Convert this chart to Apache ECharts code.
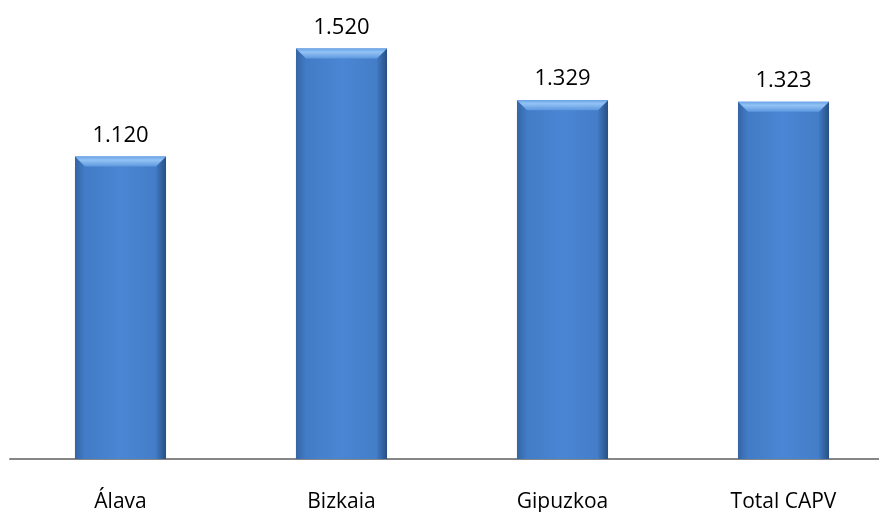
<!DOCTYPE html>
<html><head><meta charset="utf-8">
<script src="https://cdn.jsdelivr.net/npm/echarts@6/dist/echarts.min.js"></script>
<style>html,body{margin:0;padding:0;background:#fff}#c{width:879px;height:512px}</style>
</head><body><div id="c"></div>
<script>
const categories = ['Álava', 'Bizkaia', 'Gipuzkoa', 'Total CAPV'];
const values = [1120, 1520, 1329, 1323];
function fmt(v){ return String(v).replace(/\B(?=(\d{3})+(?!\d))/g, '.'); }
const chart = echarts.init(document.getElementById('c'));
function renderBar(params, api) {
  const i = api.value(0), v = api.value(1);
  const top = api.coord([i, v]);
  const base = api.coord([i, 0]);
  const w = api.size([1, 0])[0] * 0.412;
  const x0 = top[0] - w / 2, x1 = top[0] + w / 2, y0 = top[1], y1 = base[1];
  const b = 10;
  return {
    type: 'group',
    children: [
      { type: 'rect', shape: { x: x0, y: y0, width: w, height: y1 - y0 },
        style: { fill: new echarts.graphic.LinearGradient(0, 0, 1, 0, [
          { offset: 0, color: '#4079c2' }, { offset: 0.5, color: '#4a86d4' }, { offset: 1, color: '#427bc4' }]) } },
      { type: 'polygon', shape: { points: [[x0, y0], [x0 + b, y0 + b], [x0 + b, y1], [x0, y1]] },
        style: { fill: new echarts.graphic.LinearGradient(0, 0, 1, 0, [
          { offset: 0, color: '#3465a5' }, { offset: 1, color: '#427cc6' }]) } },
      { type: 'polygon', shape: { points: [[x1, y0], [x1 - b, y0 + b], [x1 - b, y1], [x1, y1]] },
        style: { fill: new echarts.graphic.LinearGradient(0, 0, 1, 0, [
          { offset: 0, color: '#4079c2' }, { offset: 1, color: '#284f84' }]) } },
      { type: 'polygon', shape: { points: [[x0, y0], [x1, y0], [x1 - b, y0 + b], [x0 + b, y0 + b]] },
        style: { fill: new echarts.graphic.LinearGradient(0, 0, 0, 1, [
          { offset: 0, color: '#6aa4e8' }, { offset: 0.35, color: '#93c3f5' }, { offset: 1, color: '#5d97de' }]) } }
    ]
  };
}
chart.setOption({
  animation: false,
  grid: { left: 10, width: 884, top: 27, bottom: 53, containLabel: false, outerBoundsMode: 'none' },
  xAxis: {
    type: 'category', data: categories,
    axisLine: { lineStyle: { color: '#868686', width: 2 } },
    axisTick: { show: false },
    axisLabel: { color: '#000', fontSize: 21, margin: 33, fontFamily: 'Open Sans' }
  },
  yAxis: { type: 'value', min: 0, max: 1600, show: false, splitLine: { show: false } },
  series: [{
    type: 'custom', renderItem: renderBar, data: values.map((v, i) => [i, v]), z: 2
  }, {
    type: 'bar', data: values, barWidth: '41%', barGap: '-100%',
    itemStyle: { color: 'rgba(0,0,0,0)' },
    label: { show: true, position: 'top', distance: 10, color: '#000', fontSize: 22, fontFamily: 'Open Sans', formatter: p => fmt(p.value) }
  }]
});
</script></body></html>
